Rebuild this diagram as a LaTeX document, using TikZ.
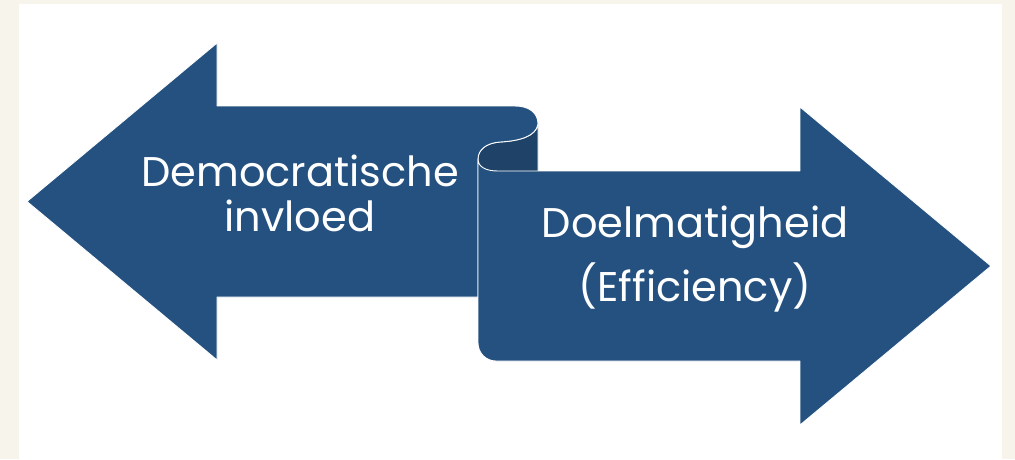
\documentclass[tikz,border=0pt]{standalone}
\usepackage{fontspec}
\setmainfont{Poppins}
\definecolor{cream}{HTML}{F7F4EC}
\definecolor{ribbon}{RGB}{36,81,128}
\definecolor{ribbondark}{RGB}{30,66,104}
\tikzset{
  face/.style={fill=ribbon, draw=white, line width=0.9pt, line join=round},
  back/.style={fill=ribbondark, draw=white, line width=0.9pt, line join=round},
  lbl/.style={text=white, anchor=base, inner sep=0pt, font=\fontsize{41.5}{44}\selectfont}
}
\begin{document}
\begin{tikzpicture}[x=1pt,y=-1pt]
\fill[cream] (0,0) rectangle (1015,459);
\fill[white] (19,4) rectangle (1002,459);
\useasboundingbox (0,0) rectangle (1015,459);
% back of the curl
\path[back] (538,124) .. controls (536,137) and (518,141) .. (500,142)
  .. controls (486,143) and (478,150) .. (478,159) -- (478,185) -- (538,185) -- cycle;
% left arrow
\path[face] (27,201.5) -- (217,43) -- (217,106) -- (515,106)
  .. controls (528,106) and (538,112) .. (538,124)
  .. controls (536,137) and (518,141) .. (500,142)
  .. controls (486,143) and (478,150) .. (478,159)
  -- (478,297) -- (217,297) -- (217,360) -- cycle;
% right arrow
\path[face] (478,159) .. controls (478,167) and (486,171) .. (498,171)
  -- (800,171) -- (800,107) -- (991,266) -- (800,425) -- (800,361)
  -- (496,361) .. controls (486,361) and (478,353) .. (478,343) -- cycle;
\node[lbl] (t1) at (300,186) {Democratische};
\node[lbl] (t2) at (300,231) {invloed};
\node[lbl] (t3) at (695,237) {Doelmatigheid};
\node[lbl] (t4) at (695,301) {(Efficiency)};
\end{tikzpicture}
\end{document}
